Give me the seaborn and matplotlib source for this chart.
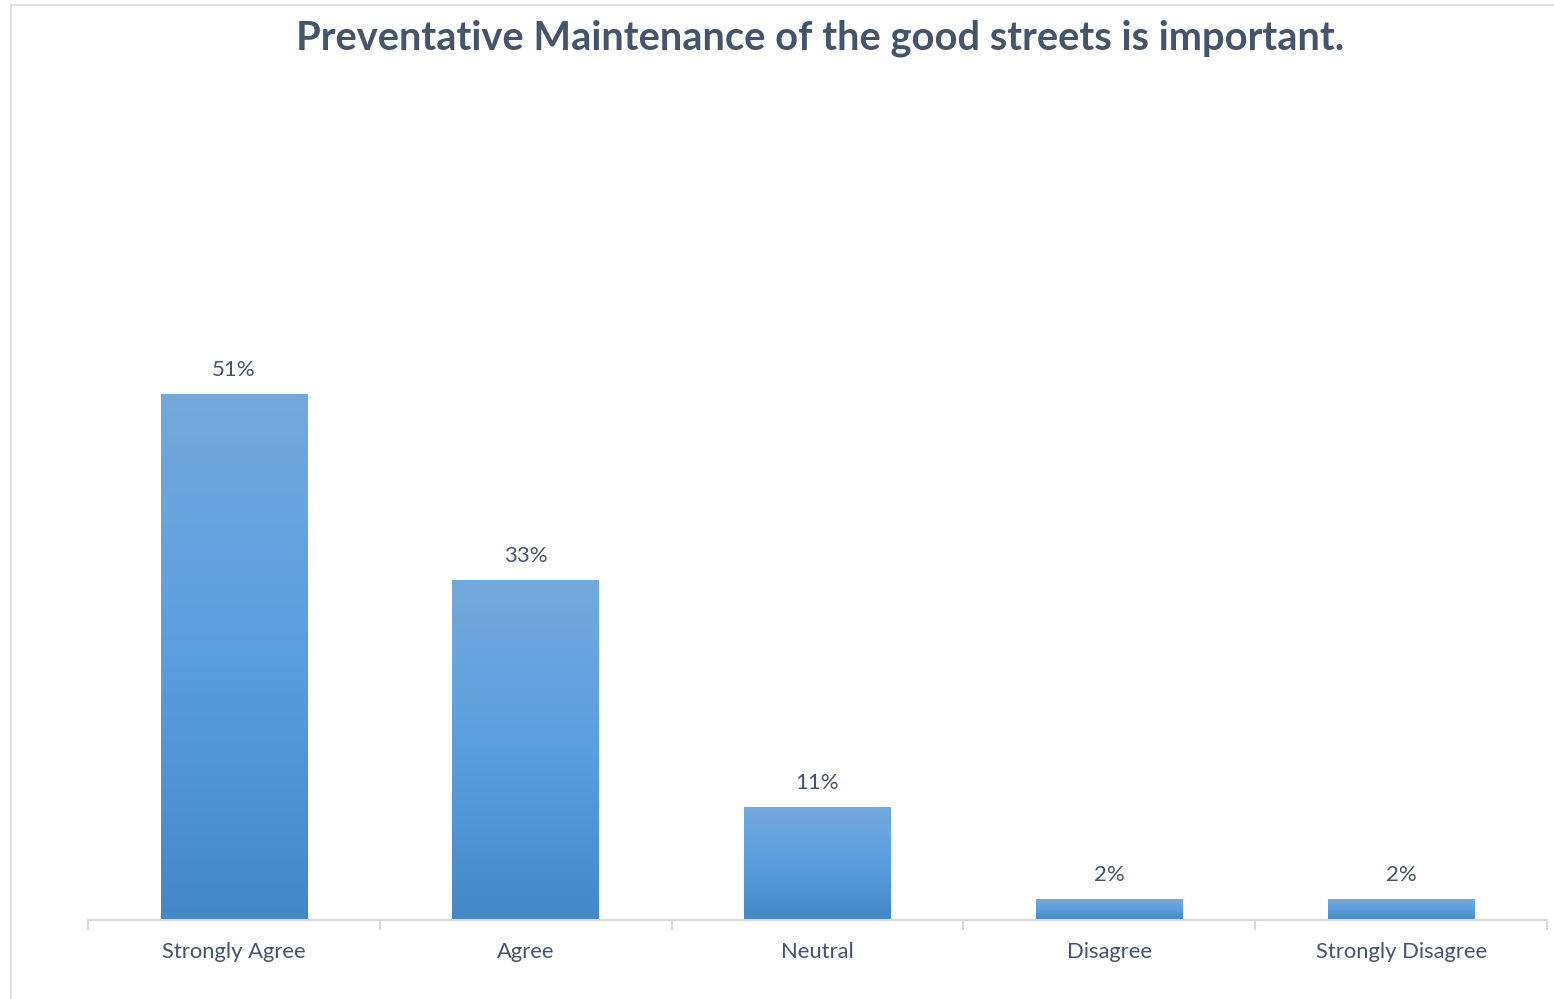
import numpy as np
import pandas as pd
import matplotlib
matplotlib.use("Agg")
import matplotlib.pyplot as plt
from matplotlib.colors import LinearSegmentedColormap
import seaborn as sns

# data
categories = ["Strongly Agree", "Agree", "Neutral", "Disagree", "Strongly Disagree"]
shares = [0.51, 0.33, 0.11, 0.02, 0.02]
labels = ["51%", "33%", "11%", "2%", "2%"]

TEXT = "#44546A"
AXIS = "#D9D9D9"

sns.set_style("white")
plt.rcParams["font.family"] = ["Lato", "DejaVu Sans"]

W, H = 1554, 999
fig = plt.figure(figsize=(W / 100, H / 100), dpi=100)
ax = fig.add_axes([88 / W, (H - 920) / H, (1547 - 88) / W, (920 - 301) / H])

df = pd.DataFrame({"cat": categories, "share": shares})
sns.barplot(data=df, x="cat", y="share", color="#5B9BD5", width=0.503, ax=ax)

# vertical gradient inside each bar
grad = LinearSegmentedColormap.from_list("bar", ["#4488CA", "#5A9EDF", "#74A9DC"])
ramp = np.linspace(0, 1, 256).reshape(-1, 1)
for p in ax.patches:
    x0, y0 = p.get_x(), p.get_y()
    w, h = p.get_width(), p.get_height()
    im = ax.imshow(ramp, cmap=grad, origin="lower", aspect="auto",
                   extent=[x0, x0 + w, y0, y0 + h], zorder=p.get_zorder())
    im.set_clip_path(p)
    p.set_facecolor("none")
    p.set_edgecolor("none")

ax.bar_label(ax.containers[0], labels=labels, padding=10, fontsize=16, color=TEXT)

ax.set_xlim(-0.5, len(categories) - 0.5)
ax.set_ylim(0, 0.6)
ax.set_xlabel("")
ax.set_ylabel("")
ax.set_yticks([])
ax.set_xticks(range(len(categories)))
ax.set_xticklabels(categories, fontsize=15.8, color=TEXT)
ax.set_xticks(np.arange(-0.5, len(categories)), minor=True)
ax.tick_params(axis="x", which="major", bottom=False, pad=12)
ax.tick_params(axis="x", which="minor", bottom=True, direction="out",
               length=7, width=1.5, color=AXIS)
for s in ["top", "right", "left"]:
    ax.spines[s].set_visible(False)
ax.spines["bottom"].set_color(AXIS)
ax.spines["bottom"].set_linewidth(1.5)

fig.text(820 / W, 1 - 38 / H, "Preventative Maintenance of the good streets is important.",
         ha="center", va="center", fontsize=28.7, fontweight="bold", color=TEXT)

# chart frame
fig.add_artist(plt.Rectangle((11 / W, -0.01), 1.05, 1 - 5 / H + 0.01,
                             transform=fig.transFigure, fill=False,
                             edgecolor="#E0E3EA", linewidth=1.5))

fig.savefig("out.png", dpi=100)
